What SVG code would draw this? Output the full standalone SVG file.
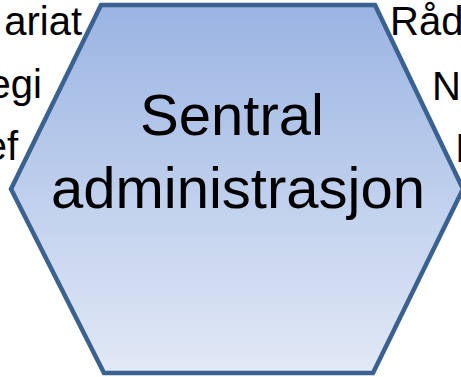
<svg xmlns="http://www.w3.org/2000/svg" width="461" height="377" viewBox="0 0 461 377">
  <defs>
    <linearGradient id="hexFill" x1="0" y1="0" x2="0" y2="1">
      <stop offset="0" stop-color="#9ab4e3"/>
      <stop offset="1" stop-color="#e2e9f6"/>
    </linearGradient>
  </defs>
  <style>
    .side { font-family: "Liberation Sans", Arial, sans-serif; font-size: 40px; fill: #000; }
    .main { font-family: "Liberation Sans", Arial, sans-serif; font-size: 58px; fill: #000; text-anchor: middle; }
    .hex { fill: url(#hexFill); stroke: #3b6190; stroke-width: 4.5; stroke-linejoin: miter; }
  </style>
  <rect width="461" height="377" fill="#ffffff"/>
  <g id="left-node">
    <text class="side" x="82" y="35" text-anchor="end">ariat</text>
    <text class="side" x="42" y="98" text-anchor="end">egi</text>
    <text class="side" x="18" y="160" text-anchor="end">ef</text>
  </g>
  <g id="right-node">
    <text class="side" x="390" y="35">Råd</text>
    <text class="side" x="432" y="100">N</text>
    <text class="side" x="455" y="162">I</text>
  </g>
  <g id="connectors"></g>
  <g id="sentral-administrasjon">
    <polygon class="hex" points="101,5 375,5 463,189 373,373 104,373 11,189"/>
    <text class="main" x="232" y="135">Sentral</text>
    <text class="main" x="238" y="208">administrasjon</text>
  </g>
</svg>
